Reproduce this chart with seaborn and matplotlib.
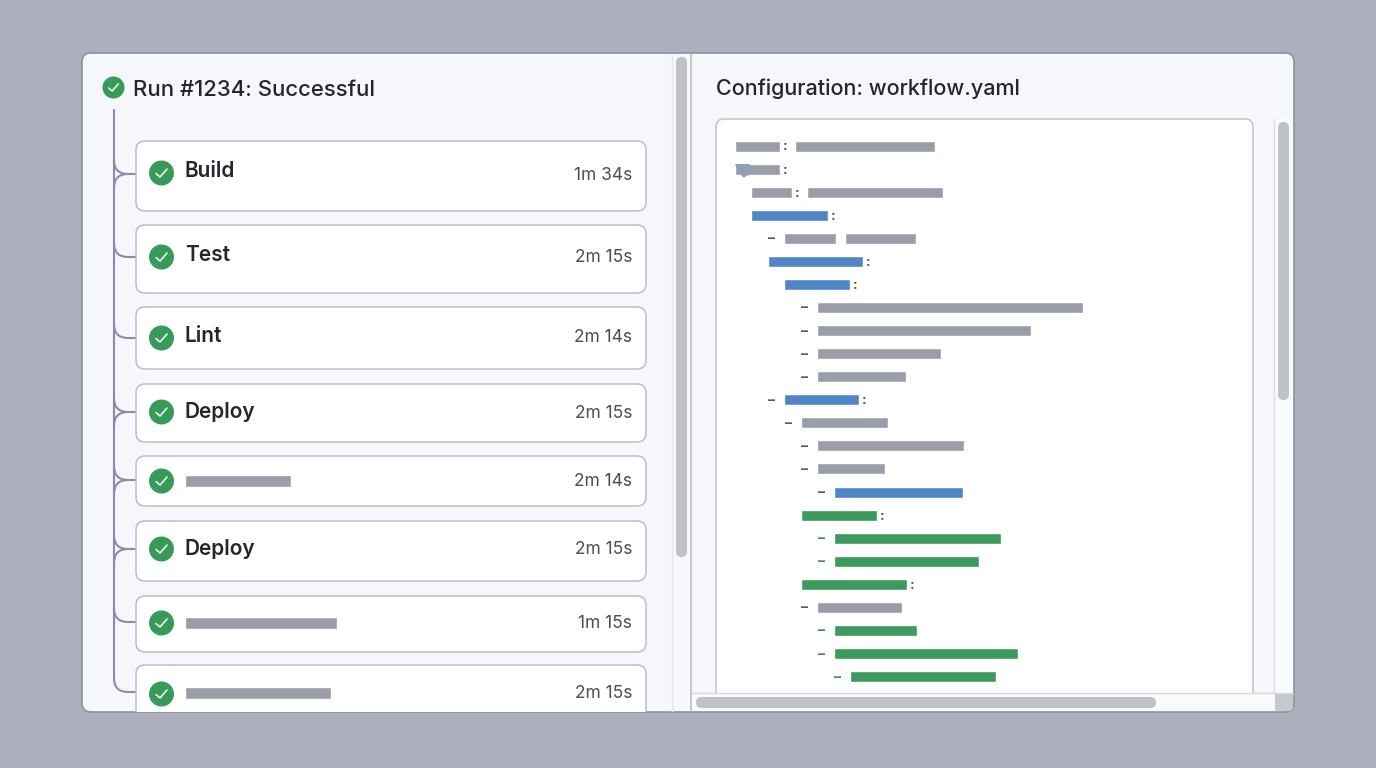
import matplotlib
matplotlib.use("Agg")
import matplotlib.pyplot as plt
from matplotlib.patches import FancyBboxPatch, Rectangle, Circle, PathPatch, Polygon
from matplotlib.path import Path
import seaborn as sns

# ---- content ----
run_title = "Run #1234: Successful"
config_title = "Configuration: workflow.yaml"
step_names = ["Build", "Test", "Lint", "Deploy", None, "Deploy", None, None]
step_durations = ["1m 34s", "2m 15s", "2m 14s", "2m 15s", "2m 14s", "2m 15s", "1m 15s", "2m 15s"]
step_placeholder_len = [0, 0, 0, 0, 106, 0, 152, 146]

yaml_level = [0, 0, 1, 1, 3, 2, 3, 5, 5, 5, 5, 3, 4, 5, 5, 6, 4, 6, 6, 4, 5, 6, 6, 7]
yaml_key_len = [45, 45, 41, 77, 52, 95, 66, 266, 214, 124, 89, 75, 87, 147, 68, 129, 76, 167, 145, 106, 85, 83, 184, 146]
yaml_val_len = [140, 0, 136, 0, 71, 0, 0, 0, 0, 0, 0, 0, 0, 0, 0, 0, 0, 0, 0, 0, 0, 0, 0, 0]
yaml_kind = ["k", "k", "k", "b", "k", "b", "b", "k", "k", "k", "k", "b", "k", "k", "k", "b",
             "g", "g", "g", "g", "k", "g", "g", "g"]
yaml_dash = [0, 0, 0, 0, 1, 0, 0, 1, 1, 1, 1, 1, 1, 1, 1, 1, 0, 1, 1, 0, 1, 1, 1, 1]
yaml_colon = [1, 1, 1, 1, 0, 1, 1, 0, 0, 0, 0, 1, 0, 0, 0, 0, 1, 0, 0, 1, 0, 0, 0, 0]

# ---- layout (pixels) ----
card_top = [141, 225, 307, 384, 456, 521, 596, 665]
card_bottom = [211, 293, 369, 442, 506, 581, 652, 740]
icon_y = [173, 257, 338, 412, 481, 549, 623, 694]
label_y = [171, 255, 336, 412, 481, 549, 623, 693]
time_y = [175, 258, 338, 413, 481, 550, 624, 694]
branch_y = [174, 257, 338, 412, 480, 549, 622, 692]
branch_double = [1, 0, 0, 1, 1, 1, 0, 0]

BG = "#acb0bc"
PANEL = "#f6f7fa"
TEXT = "#23262d"
GRAY = "#999da8"
LINE = "#8f88b0"
GREEN = "#389a58"
PALETTE = {"k": GRAY, "b": "#4f86c7", "g": "#3b9a5c"}

sns.set_theme(style="white")
plt.rcParams["font.family"] = ["Inter", "DejaVu Sans"]

fig = plt.figure(figsize=(13.76, 7.68), dpi=100, facecolor=BG)
ax = fig.add_axes([0, 0, 1, 1])
ax.set_axis_off()


def rbox(x0, y0, x1, y1, r, fc, ec, lw=1.2, z=1, clip=None):
    p = FancyBboxPatch((x0, y0), x1 - x0, y1 - y0, boxstyle=f"round,pad=0,rounding_size={r}",
                       fc=fc, ec=ec, lw=lw, zorder=z)
    ax.add_patch(p)
    if clip is not None:
        p.set_clip_path(clip)
    return p


def icon(cx, cy, r, z=5):
    ax.add_patch(Circle((cx, cy), r, fc=GREEN, ec="none", zorder=z))
    s = r / 12.5
    ax.plot([cx - 5.5 * s, cx - 1.5 * s, cx + 5.5 * s], [cy + 0.5 * s, cy + 4 * s, cy - 4 * s],
            color="#f4fbf6", lw=1.15, solid_capstyle="round", solid_joinstyle="round", zorder=z + 1)


ax.set_xlim(0, 1376)
ax.set_ylim(768, 0)

panel = rbox(82, 53, 1294, 712, 9, PANEL, "#8c92a2", lw=1.2, z=1)

# window chrome
for (x0, y0, x1, y1, c, z) in [
    (672, 54, 691, 711, "#f7f8fb", 1.5),
    (1274, 119, 1293, 693, "#f9fafc", 1.5),
    (691, 693, 1274, 711, "#f9fafb", 1.5),
    (1274, 693, 1293, 711, "#c6c8d0", 1.6),
]:
    r = Rectangle((x0, y0), x1 - x0, y1 - y0, fc=c, ec="none", zorder=z)
    ax.add_patch(r)
    r.set_clip_path(panel)
ax.plot([691, 691], [54, 711], color="#b4b8c3", lw=1.1, zorder=2)
ax.plot([672, 672], [54, 711], color="#e4e6ec", lw=1, zorder=2)
ax.plot([1274, 1274], [119, 693], color="#dcdee5", lw=1, zorder=2)
rbox(676, 57, 687, 557, 5.5, "#c0c2c7", "none", z=3)
rbox(1278, 122, 1289, 400, 5.5, "#c0c2c7", "none", z=3)
rbox(696, 697, 1156, 708, 5.5, "#c0c2c7", "none", z=3)

# titles
icon(113.5, 87.5, 11)
ax.text(133, 89.5, run_title, fontsize=15.9, fontweight=500, color=TEXT, va="center", ha="left", zorder=6)
ax.text(716, 88.5, config_title, fontsize=15.5, fontweight=500, color=TEXT, va="center", ha="left", zorder=6)

# tree connector
ax.plot([114, 114], [110, branch_y[-1] - 14], color=LINE, lw=1.5, zorder=2, solid_capstyle="round")
for by, dbl in zip(branch_y, branch_double):
    verts = [(114, by - 14), (114, by), (128, by), (136, by)]
    codes = [Path.MOVETO, Path.CURVE3, Path.CURVE3, Path.LINETO]
    if dbl:
        verts += [(114, by + 14), (114, by), (128, by)]
        codes += [Path.MOVETO, Path.CURVE3, Path.CURVE3]
    ax.add_patch(PathPatch(Path(verts, codes), fc="none", ec=LINE, lw=1.5, zorder=2))

# step cards
for i, (name, dur) in enumerate(zip(step_names, step_durations)):
    rbox(136, card_top[i], 646, card_bottom[i], 9, "white", "#bbbeca", lw=1.1, z=3, clip=panel)
    icon(161.5, icon_y[i], 12.5)
    if name:
        ax.text(185, label_y[i], name, fontsize=15, fontweight=600, color=TEXT, va="center", ha="left", zorder=6)
    ax.text(632, time_y[i], dur, fontsize=12.5, color="#4a4e57", va="center", ha="right", zorder=6)

# placeholders in the step cards
for i, length in enumerate(step_placeholder_len):
    if length:
        sns.barplot(x=[length], y=[label_y[i]], left=185, color=GRAY, saturation=1, width=11.5,
                    orient="h", native_scale=True, ax=ax, zorder=5)

# editor
rbox(716, 119, 1253, 703, 8, "white", "#bfc2ca", lw=1.1, z=2, clip=panel)
r = Rectangle((715, 693), 560, 18, fc="#f9fafb", ec="none", zorder=2.5)
ax.add_patch(r)
ax.plot([691, 1293], [693, 693], color="#d6d8df", lw=1, zorder=2.6)

ROW0, ROW_H, X0, LEVEL_W = 146, 23.07, 735, 16.45
for i, (lv, kl, vl, kind, dash, colon) in enumerate(
        zip(yaml_level, yaml_key_len, yaml_val_len, yaml_kind, yaml_dash, yaml_colon)):
    y = ROW0 + i * ROW_H
    x = X0 + lv * LEVEL_W
    sns.barplot(x=[kl], y=[y], left=x, color=PALETTE[kind], saturation=1, width=11,
                orient="h", native_scale=True, ax=ax, zorder=5)
    if vl:
        gap = 15 if colon else 9
        sns.barplot(x=[vl], y=[y], left=x + kl + gap, color=GRAY, saturation=1, width=11,
                    orient="h", native_scale=True, ax=ax, zorder=5)
    if dash:
        ax.text(x - 12.5, y, "–", fontsize=10, fontweight=700, color="#3f8a5c" if kind == "g" else "#555a64",
                va="center", ha="center", zorder=6)
    if colon:
        ax.text(x + kl + 5, y + 0.5, ":", fontsize=10, fontweight=700, color="#4a4e57",
                va="center", ha="center", zorder=6)

ax.add_patch(Polygon([(735, 164), (750, 164), (750, 175), (746, 176), (744, 178), (741, 175), (738, 171)],
                     fc="#93a0b3", ec="none", zorder=5.5))

ax.set_xlim(0, 1376)
ax.set_ylim(768, 0)
ax.set_axis_off()
fig.savefig("out.png", dpi=100, facecolor=BG)
